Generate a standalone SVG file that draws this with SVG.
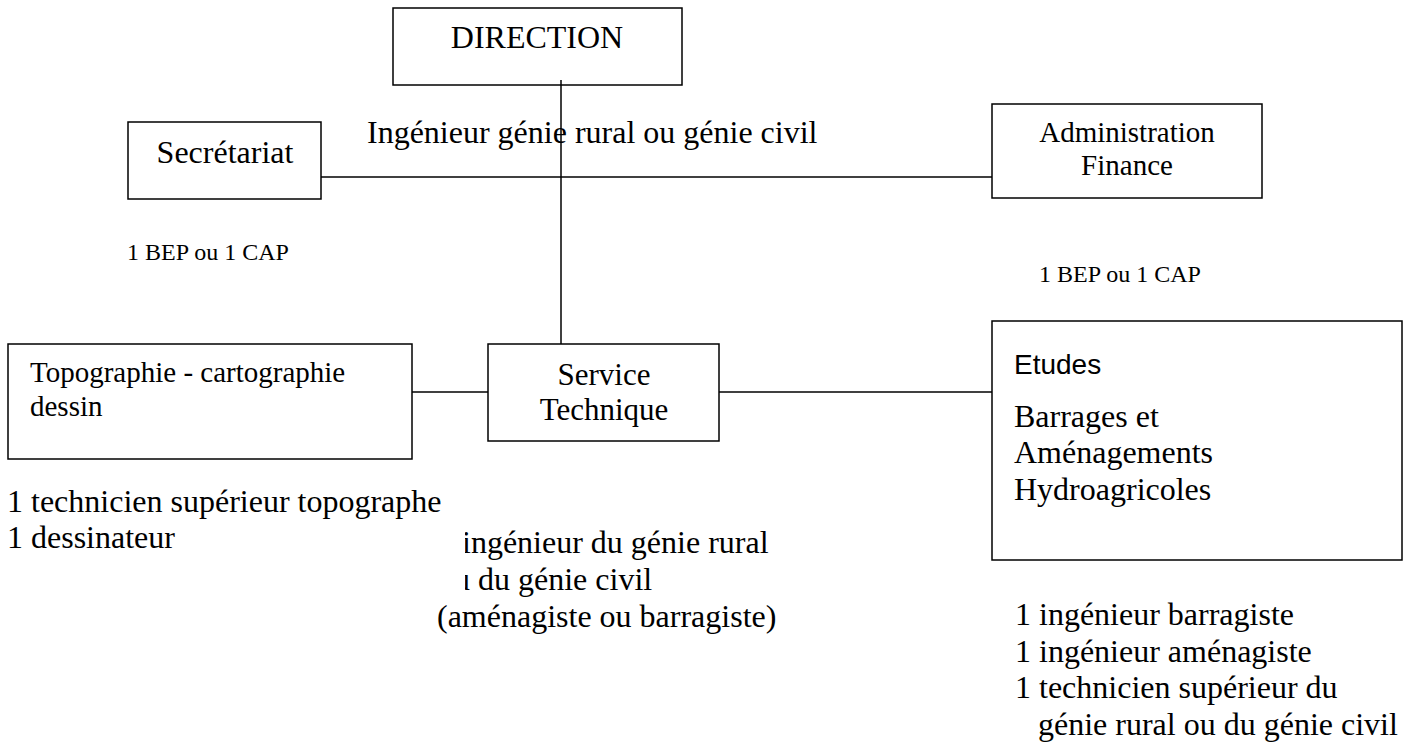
<svg xmlns="http://www.w3.org/2000/svg" width="1416" height="746" viewBox="0 0 1416 746">
<style>
.box{fill:#fff;stroke:#000;stroke-width:1.5}
.ln{stroke:#000;stroke-width:1.5;fill:none}
text{font-family:"Liberation Serif","Times New Roman",serif;fill:#000}
.t32{font-size:32px}
.t31{font-size:31px}
.t29{font-size:29px}
.t24{font-size:24px}
.sans{font-family:"Liberation Sans",Arial,sans-serif;font-size:28px}
.mid{text-anchor:middle}
</style>
<defs>
<clipPath id="clipST"><rect x="465" y="520" width="400" height="80"/></clipPath>
</defs>
<rect width="1416" height="746" fill="#fff"/>
<g id="connectors">
<line class="ln" x1="321" y1="177" x2="992" y2="177"/>
<line class="ln" x1="412" y1="392" x2="492" y2="392"/>
<line class="ln" x1="719" y1="392" x2="992" y2="392"/>
</g>
<g id="direction">
<rect class="box" x="393" y="8" width="289" height="77"/>
<text class="t32 mid" x="537" y="48">DIRECTION</text>
</g>
<g id="connector-direction">
<line class="ln" x1="561" y1="80" x2="561" y2="344"/>
</g>
<g id="direction-label">
<text class="t32" x="367" y="143">Ingénieur génie rural ou génie civil</text>
</g>
<g id="secretariat">
<rect class="box" x="128" y="122" width="193" height="77"/>
<text class="t32 mid" x="225" y="163">Secrétariat</text>
<text class="t24" x="127" y="260">1 BEP ou 1 CAP</text>
</g>
<g id="administration">
<rect class="box" x="992" y="104" width="270" height="94"/>
<text class="t29 mid" x="1127" y="142">Administration</text>
<text class="t29 mid" x="1127" y="175">Finance</text>
<text class="t24" x="1039" y="282">1 BEP ou 1 CAP</text>
</g>
<g id="topographie">
<rect class="box" x="8" y="344" width="404" height="115"/>
<text class="t29" x="30" y="382">Topographie - cartographie</text>
<text class="t29" x="30" y="416">dessin</text>
<text class="t32" x="7" y="512">1 technicien supérieur topographe</text>
<text class="t32" x="7" y="548">1 dessinateur</text>
</g>
<g id="service-technique">
<rect class="box" x="488" y="344" width="231" height="97"/>
<text class="t31 mid" x="604" y="385">Service</text>
<text class="t31 mid" x="604" y="420">Technique</text>
<g clip-path="url(#clipST)">
<text class="t32" x="462" y="553">ingénieur du génie rural</text>
<text class="t32" x="454" y="590">u</text>
</g>
<text class="t32" x="478" y="590">du génie civil</text>
<text class="t32" x="437" y="627">(aménagiste ou barragiste)</text>
</g>
<g id="etudes">
<rect class="box" x="992" y="321" width="410" height="239"/>
<text class="sans" x="1014" y="374">Etudes</text>
<text class="t32" x="1014" y="427">Barrages et</text>
<text class="t32" x="1014" y="463">Aménagements</text>
<text class="t32" x="1014" y="500">Hydroagricoles</text>
<text class="t32" x="1015" y="625">1 ingénieur barragiste</text>
<text class="t32" x="1015" y="662">1 ingénieur aménagiste</text>
<text class="t32" x="1015" y="698">1 technicien supérieur du</text>
<text class="t32" x="1038" y="735">génie rural ou du génie civil</text>
</g>
</svg>
